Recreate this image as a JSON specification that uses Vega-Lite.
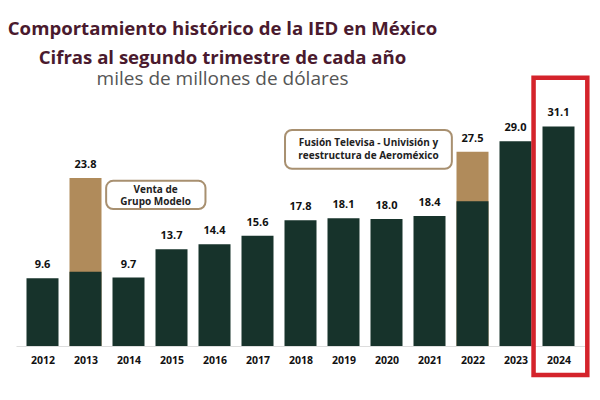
{
  "$schema": "https://vega.github.io/schema/vega-lite/v6.json",
  "width": 569,
  "height": 233,
  "autosize": "none",
  "padding": {"left": 16, "top": 113, "right": 15, "bottom": 54},
  "background": "white",
  "config": {"view": {"stroke": null}, "font": "Open Sans"},
  "title": {
    "text": ["Comportamiento histórico de la IED en México", "Cifras al segundo trimestre de cada año"],
    "subtitle": "miles de millones de dólares",
    "anchor": "middle",
    "dx": -78,
    "offset": -14,
    "font": "Open Sans",
    "fontSize": 18.6,
    "fontWeight": "bold",
    "color": "#4a1a2e",
    "lineHeight": 29,
    "subtitleFont": "Open Sans",
    "subtitleFontSize": 19,
    "subtitleFontWeight": "normal",
    "subtitleColor": "#555555",
    "subtitlePadding": 3
  },
  "datasets": {
    "ied": [
      {"year": 2012, "total": 9.6, "core": 9.6},
      {"year": 2013, "total": 23.8, "core": 10.5},
      {"year": 2014, "total": 9.7, "core": 9.7},
      {"year": 2015, "total": 13.7, "core": 13.7},
      {"year": 2016, "total": 14.4, "core": 14.4},
      {"year": 2017, "total": 15.6, "core": 15.6},
      {"year": 2018, "total": 17.8, "core": 17.8},
      {"year": 2019, "total": 18.1, "core": 18.1},
      {"year": 2020, "total": 18.0, "core": 18.0},
      {"year": 2021, "total": 18.4, "core": 18.4},
      {"year": 2022, "total": 27.5, "core": 20.5},
      {"year": 2023, "total": 29.0, "core": 29.0},
      {"year": 2024, "total": 31.1, "core": 31.1}
    ],
    "boxes": [
      {"x1": 2013.48, "x2": 2015.79, "y1": 23.4, "y2": 19.4},
      {"x1": 2017.64, "x2": 2021.52, "y1": 30.6, "y2": 25.1}
    ],
    "notes": [
      {"x": 2014.63, "y": 22.15, "text": "Venta de\nGrupo Modelo"},
      {"x": 2019.58, "y": 28.7, "text": "Fusión Televisa - Univisión y\nreestructura de Aeroméxico"}
    ],
    "highlight": [
      {"x1": 2023.42, "x2": 2024.67, "y1": 38.0, "y2": -4.1}
    ]
  },
  "layer": [
    {
      "data": {"name": "ied"},
      "transform": [{"filter": "datum.total > datum.core"}],
      "mark": {"type": "bar", "width": 32, "color": "#b08b5b"},
      "encoding": {
        "x": {"field": "year", "type": "quantitative", "scale": {"domain": [2011.5, 2024.5], "nice": false, "zero": false},
          "axis": {"values": [2012,2013,2014,2015,2016,2017,2018,2019,2020,2021,2022,2023,2024], "format": "d", "title": null,
            "ticks": false, "grid": false, "domainColor": "#dddddd", "domainWidth": 1,
            "labelFont": "Open Sans", "labelFontSize": 10.5, "labelFontWeight": "bold", "labelColor": "#111111", "labelPadding": 9}},
        "y": {"field": "total", "type": "quantitative", "scale": {"domain": [0, 33], "nice": false}, "axis": null}
      }
    },
    {
      "data": {"name": "ied"},
      "mark": {"type": "bar", "width": 32, "color": "#17332b"},
      "encoding": {
        "x": {"field": "year", "type": "quantitative"},
        "y": {"field": "core", "type": "quantitative"}
      }
    },
    {
      "data": {"name": "ied"},
      "mark": {"type": "text", "font": "Open Sans", "fontSize": 11, "fontWeight": "bold", "color": "#111111", "baseline": "alphabetic", "dy": -10},
      "encoding": {
        "x": {"field": "year", "type": "quantitative"},
        "y": {"field": "total", "type": "quantitative"},
        "text": {"field": "total", "type": "quantitative", "format": ".1f"}
      }
    },
    {
      "data": {"name": "boxes"},
      "mark": {"type": "rect", "fill": "white", "stroke": "#a89070", "strokeWidth": 2, "cornerRadius": 7},
      "encoding": {
        "x": {"field": "x1", "type": "quantitative"},
        "x2": {"field": "x2"},
        "y": {"field": "y1", "type": "quantitative"},
        "y2": {"field": "y2"}
      }
    },
    {
      "data": {"name": "notes"},
      "mark": {"type": "text", "font": "Open Sans", "fontSize": 10, "fontWeight": "bold", "color": "#222222", "baseline": "middle", "lineBreak": "\n", "lineHeight": 12.5},
      "encoding": {
        "x": {"field": "x", "type": "quantitative"},
        "y": {"field": "y", "type": "quantitative"},
        "text": {"field": "text"}
      }
    },
    {
      "data": {"name": "highlight"},
      "mark": {"type": "rect", "fill": null, "fillOpacity": 0, "stroke": "#d4232b", "strokeWidth": 4.5},
      "encoding": {
        "x": {"field": "x1", "type": "quantitative"},
        "x2": {"field": "x2"},
        "y": {"field": "y1", "type": "quantitative"},
        "y2": {"field": "y2"}
      }
    }
  ]
}
